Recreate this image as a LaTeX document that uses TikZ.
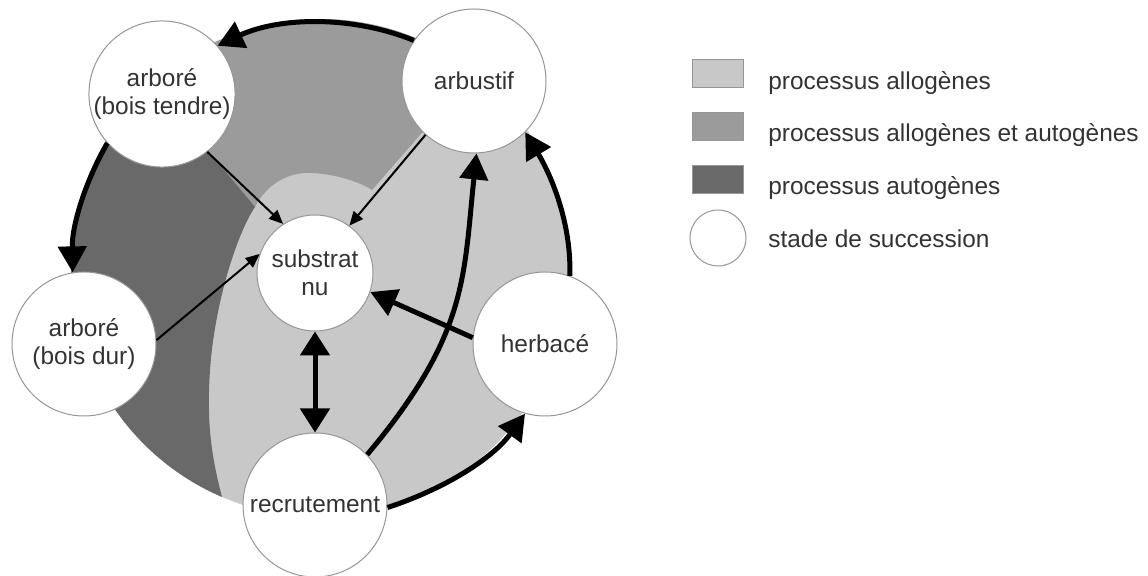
\documentclass[tikz,border=0pt]{standalone}
\usepackage{fontspec}
\setmainfont{Liberation Sans}
\usetikzlibrary{arrows.meta}
\definecolor{lightg}{RGB}{200,200,200}
\definecolor{medg}{RGB}{155,155,155}
\definecolor{darkg}{RGB}{105,105,105}
\definecolor{txt}{RGB}{51,51,51}
\definecolor{rim}{RGB}{150,150,150}
\begin{document}
\begin{tikzpicture}[x=0.5pt,y=-0.5pt,
  stage/.style={circle, draw=rim, line width=0.5pt, fill=white, inner sep=0pt,
    minimum size=72pt, align=center, text=txt, font=\fontsize{12.2}{14}\selectfont},
  smallstage/.style={stage, minimum size=58pt},
  bigarrow/.style={line width=2.5pt, -{Triangle[length=13pt,width=14pt]}},
  dblarrow/.style={line width=2.5pt, {Triangle[length=12pt,width=14.5pt]}-{Triangle[length=12pt,width=14.5pt]}},
  thinarrow/.style={line width=1pt, -{Triangle[length=7pt,width=6pt]}},
  legbox/.style={draw=rim, line width=0.4pt, minimum width=25.5pt, minimum height=14pt, inner sep=0pt},
  legtext/.style={anchor=base west, text=txt, font=\fontsize{12.2}{14}\selectfont, inner sep=0pt}]
\useasboundingbox (0,0) rectangle (1148,576);
\fill[white] (0,0) rectangle (1148,576);
% shaded disk
\coordinate (c) at (320,268);
\fill[lightg] (c) circle[radius=124.5pt];
\begin{scope}
  \clip (c) circle[radius=124.5pt];
  \fill[medg] (50,-40) -- (162,94) -- (210,153) -- (255,207)
    .. controls (268,182) and (290,172) .. (312,173)
    .. controls (335,174) and (360,182) .. (372,190)
    -- (420,135) -- (474,81) -- (570,-40) -- cycle;
  \fill[darkg] (50,-40) -- (162,94) -- (210,153) -- (255,207)
    .. controls (238,232) and (215,300) .. (210,370)
    .. controls (206,430) and (212,470) .. (235,540)
    -- (-50,600) -- (-50,-40) -- cycle;
\end{scope}
% stages
\node[stage] (tendre) at (162,94) {arboré\\(bois tendre)};
\node[stage] (arbustif) at (474,81) {arbustif};
\node[smallstage] (substrat) at (315,273) {substrat\\nu};
\node[stage] (dur) at (84,344) {arboré\\(bois dur)};
\node[stage] (herbace) at (545,344) {herbacé};
\node[stage] (recrutement) at (315,505) {recrutement};
% connectors
\draw[bigarrow] (arbustif.146) to[out=158,in=25,looseness=0.88] (tendre.41);
\draw[bigarrow] (tendre.222) to[out=240,in=91,looseness=0.88] (dur.99);
\draw[bigarrow] (recrutement.-2) to[out=18,in=234,looseness=0.88] (herbace.254);
\draw[bigarrow] (herbace.70) to[out=88,in=301,looseness=0.88] (arbustif.-45);
\draw[bigarrow] (recrutement.44) to[out=50,in=264,out looseness=1.25] (arbustif.272);
\draw[bigarrow] (herbace.175) -- (substrat.-19);
\draw[dblarrow] (substrat.south) -- (recrutement.north);
\draw[thinarrow] (tendre.-52) -- (substrat.123);
\draw[thinarrow] (arbustif.228) -- (substrat.54);
\draw[thinarrow] (dur.3) -- (substrat.161);
% legend
\node[legbox, fill=lightg] (l1) at (717.5,73.5) {};
\node[legbox, fill=medg] (l2) at (717.5,126.5) {};
\node[legbox, fill=darkg] (l3) at (717.5,179) {};
\node[circle, draw=rim, line width=0.5pt, fill=white, minimum size=28pt, inner sep=0pt] (l4) at (718,238) {};
\node[legtext] (t1) at (768,90) {processus allogènes};
\node[legtext] (t2) at (768,142) {processus allogènes et autogènes};
\node[legtext] (t3) at (768,195) {processus autogènes};
\node[legtext] (t4) at (768,248) {stade de succession};
\end{tikzpicture}
\end{document}
